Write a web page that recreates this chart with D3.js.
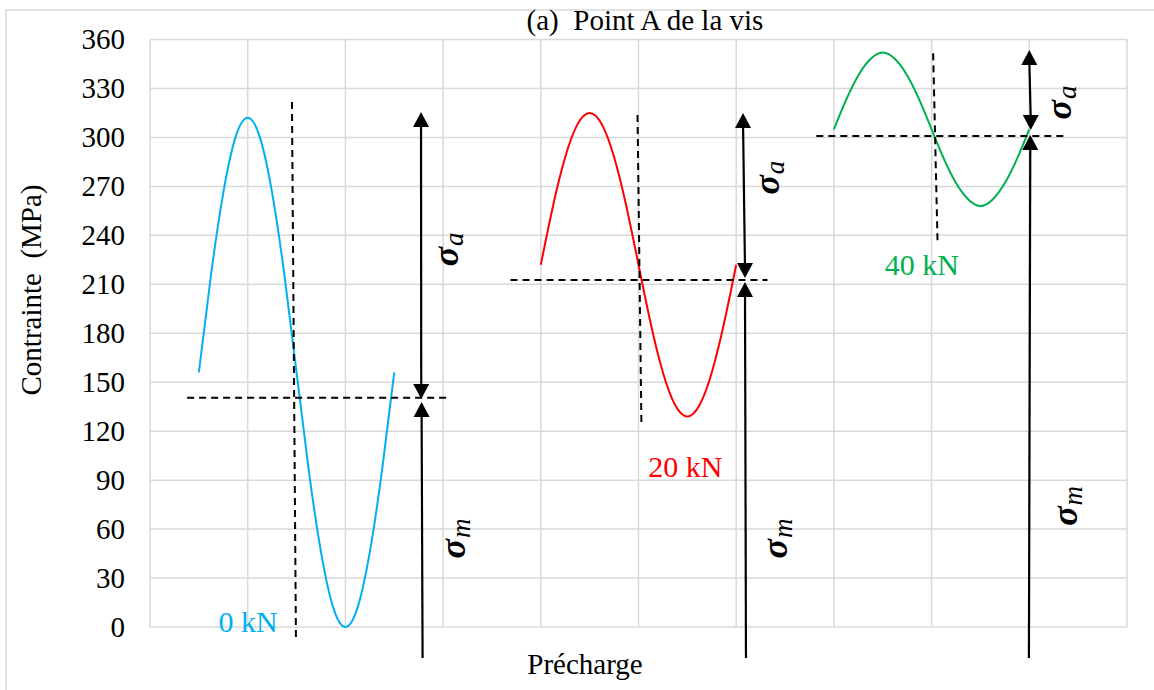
<!DOCTYPE html>
<html><head><meta charset="utf-8">
<script src="https://cdn.jsdelivr.net/npm/d3@7"></script>
<style>body{margin:0;background:#fff}svg{display:block}text{font-family:"Liberation Serif","Times New Roman",serif;white-space:pre}</style>
</head><body><svg id="c" width="1154" height="690"></svg>
<script>
// ---- data ----
const title = "(a)  Point A de la vis";
const yLabel = "Contrainte  (MPa)";
const xLabel = "Précharge";
const yTicks = [0,30,60,90,120,150,180,210,240,270,300,330,360];
const xGrid = [0,1,2,3,4,5,6,7,8,9,10];
const loadLabels = ["0 kN","20 kN","40 kN"];
const loadColors = ["#00B0F0","#FF0000","#00B050"];
const x0kN  = [0.5,0.625,0.75,0.875,1,1.125,1.25,1.375,1.5,1.625,1.75,1.875,2,2.125,2.25,2.375,2.5];
const y0kN  = [156,216,266,300,312,300,266,216,156,96,46,12,0,12,46,96,156];
const x20kN = [4,4.125,4.25,4.375,4.5,4.625,4.75,4.875,5,5.125,5.25,5.375,5.5,5.625,5.75,5.875,6];
const y20kN = [222,258,288,308,315,308,288,258,222,186,156,136,129,136,156,186,222];
const x40kN = [7,7.125,7.25,7.375,7.5,7.625,7.75,7.875,8,8.125,8.25,8.375,8.5,8.625,8.75,8.875,9];
const y40kN = [305,323,338,348,352,348,338,323,305,287,272,262,258,262,272,287,305];
// mean-stress dashed lines [x1,x2,y]
const meanLines = [[0.38,3.04,140.5],[3.69,6.32,212.6],[6.82,9.35,300.9]];
// phase dashed lines [x1,y1,x2,y2]
const phaseLines = [[1.453,321.7,1.494,-9.2],[4.99,313.7,5.03,123.8],[8.016,351.5,8.061,235.5]];
// sigma_a arrows [xTop,yTop,xBot,yBot]
const sigmaA = [[2.774,315.6,2.776,139.7],[6.07,315,6.09,213.8],[9.0,353.6,9.015,304.5]];
// sigma_m arrows [xTop,yTop,xBot,yBot]
const sigmaM = [[2.78,137.9,2.79,-19],[6.09,211.4,6.1,-19],[9.01,301.5,8.996,-19]];
// label anchor positions in data units
const sigmaALabelPos = [[3.15,221],[6.44,265],[9.43,311]];
const sigmaMLabelPos = [[3.22,42],[6.52,42],[9.49,62]];
const loadLabelPos = [[0.7,-3],[5.1,92],[7.52,216]];

// ---- chart ----
const svg = d3.select("#c");
const x = d3.scaleLinear().domain([0,10]).range([150,1127]);
const y = d3.scaleLinear().domain([0,360]).range([627,39.5]);

svg.append("rect").attr("x",6).attr("y",10).attr("width",1170).attr("height",700)
  .attr("fill","none").attr("stroke","#D9D9D9").attr("stroke-width",1.5);

const g = svg.append("g");
g.selectAll(".hg").data(yTicks).join("line")
  .attr("x1",x(0)).attr("x2",x(10)).attr("y1",d=>y(d)).attr("y2",d=>y(d))
  .attr("stroke","#D9D9D9").attr("stroke-width",1.5);
g.selectAll(".vg").data(xGrid).join("line")
  .attr("x1",d=>x(d)).attr("x2",d=>x(d)).attr("y1",y(0)).attr("y2",y(360))
  .attr("stroke","#D9D9D9").attr("stroke-width",1.5);

const yAxis = d3.axisLeft(y).tickValues(yTicks).tickSize(0).tickPadding(25);
const ya = svg.append("g").attr("transform",`translate(${x(0)},0)`).call(yAxis);
ya.select(".domain").remove();
ya.selectAll("text").attr("font-size",29).attr("fill","#000")
  .attr("font-family","Liberation Serif").attr("dy","0.32em");

svg.append("text").attr("x",645).attr("y",29.5).attr("text-anchor","middle")
  .attr("font-size",29).text(title);
svg.append("text").attr("x",585).attr("y",674).attr("text-anchor","middle")
  .attr("font-size",29).text(xLabel);
svg.append("text").attr("transform","translate(41,290) rotate(-90)").attr("text-anchor","middle")
  .attr("font-size",29).text(yLabel);

// curves
const line = d3.line().x(d=>x(d[0])).y(d=>y(d[1])).curve(d3.curveNatural);
const series = [[x0kN,y0kN],[x20kN,y20kN],[x40kN,y40kN]];
series.forEach((s,i)=>{
  const pts = s[0].map((v,j)=>[v,s[1][j]]);
  svg.append("path").attr("d",line(pts)).attr("fill","none")
    .attr("stroke",loadColors[i]).attr("stroke-width",2);
});

// dashed lines
svg.selectAll(".ml").data(meanLines).join("line")
  .attr("x1",d=>x(d[0])).attr("x2",d=>x(d[1])).attr("y1",d=>y(d[2])).attr("y2",d=>y(d[2]))
  .attr("stroke","#000").attr("stroke-width",2).attr("stroke-dasharray","7,5");
svg.selectAll(".pl").data(phaseLines).join("line")
  .attr("x1",d=>x(d[0])).attr("y1",d=>y(d[1])).attr("x2",d=>x(d[2])).attr("y2",d=>y(d[3]))
  .attr("stroke","#000").attr("stroke-width",2).attr("stroke-dasharray","7,5");

// arrows
function head(px,py,dir){ // dir -1 = points up, 1 = points down
  const h=15, w=8;
  return `M${px},${py}L${px-w},${py-dir*h}L${px+w},${py-dir*h}Z`;
}
sigmaA.forEach(d=>{
  const x1=x(d[0]),y1=y(d[1]),x2=x(d[2]),y2=y(d[3]);
  svg.append("line").attr("x1",x1).attr("y1",y1+10).attr("x2",x2).attr("y2",y2-10)
    .attr("stroke","#000").attr("stroke-width",2.2);
  svg.append("path").attr("d",head(x1,y1,-1)).attr("fill","#000");
  svg.append("path").attr("d",head(x2,y2,1)).attr("fill","#000");
});
sigmaM.forEach(d=>{
  const x1=x(d[0]),y1=y(d[1]),x2=x(d[2]),y2=y(d[3]);
  svg.append("line").attr("x1",x1).attr("y1",y1+10).attr("x2",x2).attr("y2",y2)
    .attr("stroke","#000").attr("stroke-width",2.2);
  svg.append("path").attr("d",head(x1,y1,-1)).attr("fill","#000");
});

// sigma labels
function sigLabel(pos,sub){
  const t = svg.append("text").attr("transform",`translate(${x(pos[0])},${y(pos[1])}) rotate(-90)`)
    .attr("text-anchor","start");
  t.append("tspan").attr("font-size",36).attr("font-weight","bold").attr("font-style","italic").text("σ");
  t.append("tspan").attr("font-size",27).attr("font-style","italic").attr("dy",5).attr("dx",1).text(sub);
}
sigmaALabelPos.forEach(p=>sigLabel(p,"a"));
sigmaMLabelPos.forEach(p=>sigLabel(p,"m"));

// load labels
loadLabels.forEach((t,i)=>{
  svg.append("text").attr("x",x(loadLabelPos[i][0])).attr("y",y(loadLabelPos[i][1]))
    .attr("font-size",30).attr("fill",loadColors[i]).text(t);
});
</script></body></html>
